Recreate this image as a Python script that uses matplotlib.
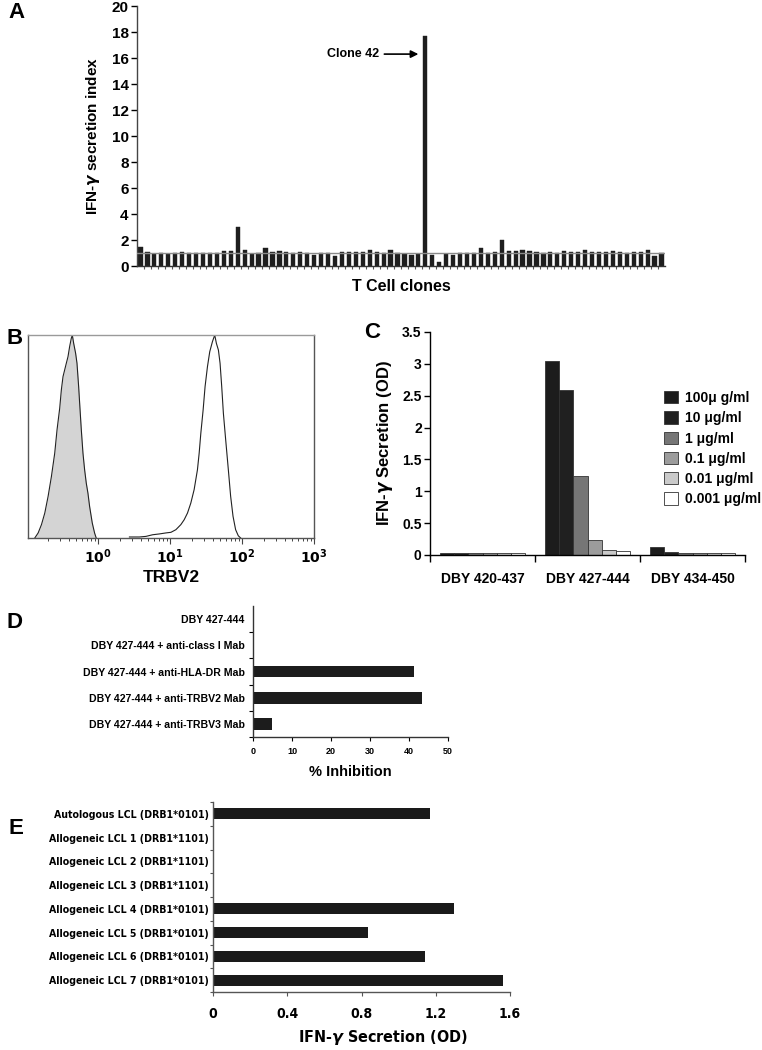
import numpy as np
import matplotlib
matplotlib.use('Agg')
import matplotlib.pyplot as plt
from matplotlib.patches import Patch
from matplotlib.ticker import FixedLocator, NullFormatter, LogLocator
from matplotlib.font_manager import FontProperties

plt.rcParams['font.family'] = ['Liberation Sans', 'DejaVu Sans']
plt.rcParams['font.weight'] = 'bold'
plt.rcParams['axes.linewidth'] = 1.0

# ---------------- Panel A data ----------------
clone_values = [1.43, 1.06, 0.96, 0.98, 0.92, 0.98, 1.06, 0.98, 0.98, 0.98,
                1.03, 0.98, 1.16, 1.16, 3.00, 1.21, 0.93, 1.00, 1.42, 1.06,
                1.16, 1.06, 1.00, 1.06, 1.00, 0.83, 1.00, 0.98, 0.75, 1.10,
                1.10, 1.10, 1.10, 1.21, 1.10, 1.00, 1.21, 1.00, 0.96, 0.85,
                0.96, 17.70, 0.85, 0.28, 0.96, 0.85, 1.03, 0.98, 0.98, 1.37,
                0.98, 1.10, 2.00, 1.16, 1.16, 1.21, 1.16, 1.08, 1.00, 1.10,
                1.00, 1.16, 1.06, 1.10, 1.21, 1.06, 1.06, 1.10, 1.16, 1.06,
                1.00, 1.10, 1.10, 1.21, 0.80, 0.98]
clone_ids = list(range(1, len(clone_values) + 1))
threshold = 1.0
highlight_clone = 42
a_yticks = [0, 2, 4, 6, 8, 10, 12, 14, 16, 18, 20]

# ---------------- Panel B data (log10 intensity, % of max) ----------------
iso_log = [-0.876, -0.829, -0.783, -0.737, -0.691, -0.645, -0.599, -0.567, -0.530, -0.507,
           -0.484, -0.461, -0.438, -0.415, -0.392, -0.369, -0.355, -0.336, -0.309, -0.290,
           -0.267, -0.253, -0.230, -0.207, -0.184, -0.161, -0.138, -0.115, -0.078, -0.046, -0.023]
iso_pct = [0, 2.5, 6.6, 12.3, 20.5, 30.3, 41.8, 53.3, 63.9, 73.0,
           79.5, 82.8, 86.1, 89.3, 94.3, 98.4, 100, 95.9, 91.0, 86.1,
           74.6, 66.4, 53.3, 41.8, 33.6, 27.0, 22.1, 15.6, 7.4, 2.5, 0]
trbv2_log = [0.438, 0.576, 0.668, 0.760, 0.853, 0.945, 1.014, 1.083, 1.152, 1.198,
             1.244, 1.290, 1.336, 1.382, 1.406, 1.429, 1.461, 1.488, 1.521, 1.553,
             1.590, 1.622, 1.645, 1.673, 1.696, 1.719, 1.742, 1.774, 1.811, 1.843,
             1.876, 1.912, 1.949, 1.982]
trbv2_pct = [0.5, 0.5, 0.8, 1.6, 2.0, 2.5, 2.8, 4.1, 6.6, 9.0,
             12.3, 17.2, 23.8, 33.6, 41.8, 51.6, 63.1, 74.6, 84.4, 91.8,
             96.7, 100, 95.9, 92.6, 86.1, 74.6, 61.5, 48.4, 33.6, 20.5,
             10.7, 4.1, 1.1, 0]
b_ticks = [1, 10, 100, 1000]
b_ticklabels = [r'$\mathbf{10^{0}}$', r'$\mathbf{10^{1}}$', r'$\mathbf{10^{2}}$', r'$\mathbf{10^{3}}$']

# ---------------- Panel C data ----------------
peptides = ['DBY 420-437', 'DBY 427-444', 'DBY 434-450']
conc_labels = ['100\u03bc g/ml', '10 \u03bcg/ml', '1 \u03bcg/ml', '0.1 \u03bcg/ml',
               '0.01 \u03bcg/ml', '0.001 \u03bcg/ml']
c_100 = [0.035, 3.05, 0.12]
c_10 = [0.035, 2.59, 0.05]
c_1 = [0.03, 1.24, 0.03]
c_01 = [0.03, 0.23, 0.03]
c_001 = [0.03, 0.085, 0.03]
c_0001 = [0.03, 0.06, 0.03]
conc_colors = ['#1c1c1c', '#202020', '#767676', '#9c9c9c', '#cacaca', '#ffffff']
c_yticks = [0, 0.5, 1, 1.5, 2, 2.5, 3, 3.5]
c_yticklabels = ['0', '0.5', '1', '1.5', '2', '2.5', '3', '3.5']

# ---------------- Panel D data ----------------
d_conditions = ['DBY 427-444', 'DBY 427-444 + anti-class I Mab',
                'DBY 427-444 + anti-HLA-DR Mab', 'DBY 427-444 + anti-TRBV2 Mab',
                'DBY 427-444 + anti-TRBV3 Mab']
d_inhibition = [0, 0, 41.2, 43.4, 4.9]
d_xticks = [0, 10, 20, 30, 40, 50]

# ---------------- Panel E data ----------------
e_lines = ['Autologous LCL (DRB1*0101)', 'Allogeneic LCL 1 (DRB1*1101)',
           'Allogeneic LCL 2 (DRB1*1101)', 'Allogeneic LCL 3 (DRB1*1101)',
           'Allogeneic LCL 4 (DRB1*0101)', 'Allogeneic LCL 5 (DRB1*0101)',
           'Allogeneic LCL 6 (DRB1*0101)', 'Allogeneic LCL 7 (DRB1*0101)']
e_od = [1.17, 0, 0, 0, 1.30, 0.835, 1.14, 1.56]
e_xticks = [0, 0.4, 0.8, 1.2, 1.6]
e_xticklabels = ['0', '0.4', '0.8', '1.2', '1.6']

W, H = 762, 1050
fig = plt.figure(figsize=(W / 100, H / 100), dpi=100)


def rect(x0, y0, x1, y1):
    return [x0 / W, 1 - y1 / H, (x1 - x0) / W, (y1 - y0) / H]


def narrow(size):
    return FontProperties(family='DejaVu Sans', stretch='condensed', weight='bold', size=size)


# ================= Panel A =================
axA = fig.add_axes(rect(137, 6, 665, 266))
axA.bar(clone_ids, clone_values, width=0.6, color='#1e1e1e', edgecolor='#1e1e1e', linewidth=0.3, zorder=2)
axA.axhline(threshold, color='#8a8a8a', lw=1.0, zorder=3)
axA.set_xlim(0.5, len(clone_ids) + 0.5)
axA.set_ylim(0, 20)
axA.set_yticks(a_yticks)
axA.tick_params(axis='y', labelsize=11, length=4, width=1, direction='out', pad=2)
axA.set_xticks([c + 0.5 for c in clone_ids[:-1]])
axA.set_xticklabels([])
axA.tick_params(axis='x', length=2, width=0.8, direction='out', color='#555555')
for s in ['top', 'right']:
    axA.spines[s].set_visible(False)
axA.spines['left'].set_color('#444444')
axA.spines['bottom'].set_color('#333333')
axA.set_ylabel(r'IFN-$\gamma$ secretion index', fontsize=11, fontweight='bold', labelpad=7)
axA.set_xlabel('T Cell clones', fontsize=11.5, fontweight='bold', labelpad=4)
axA.annotate('', xy=(highlight_clone - 1.0, 16.3), xytext=(highlight_clone - 5.9, 16.3),
             arrowprops=dict(arrowstyle='-|>', color='black', lw=1.2, mutation_scale=11,
                             shrinkA=0, shrinkB=0))
axA.text(highlight_clone - 6.6, 16.3, 'Clone %d' % highlight_clone, ha='right', va='center',
         fontsize=9, fontweight='bold')

# ================= Panel B =================
axB = fig.add_axes(rect(28, 335, 314, 538))
axB.fill_between([10 ** v for v in iso_log], iso_pct, color='#d4d4d4', lw=0)
axB.plot([10 ** v for v in iso_log], iso_pct, color='#222222', lw=0.8)
axB.plot([10 ** v for v in trbv2_log], trbv2_pct, color='#222222', lw=0.8)
axB.set_xscale('log')
axB.set_xlim(10 ** -0.97, 1000)
axB.set_ylim(0, 100)
axB.set_xticks(b_ticks)
axB.set_xticklabels(b_ticklabels)
axB.xaxis.set_minor_locator(LogLocator(base=10, subs=np.arange(2, 10), numticks=20))
axB.xaxis.set_minor_formatter(NullFormatter())
axB.tick_params(axis='x', which='major', length=4, width=0.8, labelsize=10, pad=3, color='#444444')
axB.tick_params(axis='x', which='minor', length=2.5, width=0.7, color='#444444')
axB.set_yticks([])
for s in axB.spines.values():
    s.set_color('#555555')
axB.spines['top'].set_color('#9a9a9a')
axB.set_xlabel('TRBV2', fontsize=12.5, fontweight='bold', labelpad=3)

# ================= Panel C =================
axC = fig.add_axes(rect(430, 332, 745, 555))
series = [c_100, c_10, c_1, c_01, c_001, c_0001]
bw = 0.135
centers = np.arange(len(peptides)) + 0.5
handles = []
for i, (vals, col) in enumerate(zip(series, conc_colors)):
    axC.bar(centers + (i - 2.5) * bw, vals, width=bw, color=col, edgecolor='#333333', linewidth=0.6)
    handles.append(Patch(facecolor=col, edgecolor='#333333', linewidth=0.6))
axC.set_xlim(0, len(peptides))
axC.set_ylim(0, 3.5)
axC.set_yticks(c_yticks)
axC.set_yticklabels(c_yticklabels)
axC.xaxis.set_major_locator(FixedLocator(list(range(len(peptides) + 1))))
axC.xaxis.set_major_formatter(NullFormatter())
axC.set_xticks(centers, minor=True)
axC.set_xticklabels(peptides, minor=True)
axC.tick_params(axis='x', which='major', length=5, width=1)
axC.tick_params(axis='x', which='minor', length=0, labelsize=10, pad=12)
axC.tick_params(axis='y', length=4, width=1, labelsize=10, pad=2)
for s in ['top', 'right']:
    axC.spines[s].set_visible(False)
axC.set_ylabel(r'IFN-$\gamma$ Secretion (OD)', fontsize=12, fontweight='bold', labelpad=5)
fig.legend(handles, conc_labels, loc='upper left', bbox_to_anchor=(664 / W, 1 - 391 / H),
           frameon=False, handlelength=1.0, handleheight=1.0, handletextpad=0.5,
           labelspacing=0.45, borderaxespad=0, borderpad=0,
           prop={'size': 10, 'weight': 'bold'})

# ================= Panel D =================
axD = fig.add_axes(rect(253, 606, 448, 737))
yD = np.arange(len(d_conditions))
axD.barh(yD, d_inhibition, height=0.45, color='#1c1c1c')
axD.set_ylim(len(d_conditions) - 0.5, -0.5)
axD.set_xlim(0, 50)
axD.set_xticks(d_xticks)
axD.tick_params(axis='x', length=3, width=0.8, labelsize=6.5, pad=4)
axD.yaxis.set_major_locator(FixedLocator([v + 0.5 for v in yD]))
axD.yaxis.set_major_formatter(NullFormatter())
axD.set_yticks(yD, minor=True)
axD.set_yticklabels(d_conditions, minor=True)
axD.tick_params(axis='y', which='major', length=3, width=0.8)
axD.tick_params(axis='y', which='minor', length=0, labelsize=7.6, pad=6)
for s in ['top', 'right']:
    axD.spines[s].set_visible(False)
axD.spines['left'].set_color('#333333')
axD.spines['bottom'].set_color('#333333')
axD.set_xlabel('% Inhibition', fontsize=10.5, fontweight='bold', labelpad=7)

# ================= Panel E =================
axE = fig.add_axes(rect(213, 802, 510, 992))
yE = np.arange(len(e_lines))
axE.barh(yE, e_od, height=0.46, color='#1a1a1a')
axE.set_ylim(len(e_lines) - 0.5, -0.5)
axE.set_xlim(0, 1.6)
axE.set_xticks(e_xticks)
axE.set_xticklabels(e_xticklabels, fontproperties=narrow(10))
axE.tick_params(axis='x', length=3, width=0.8, pad=8, color='#555555')
axE.yaxis.set_major_locator(FixedLocator([v - 0.5 for v in yE] + [len(e_lines) - 0.5]))
axE.yaxis.set_major_formatter(NullFormatter())
axE.set_yticks(yE, minor=True)
axE.set_yticklabels(e_lines, minor=True, fontproperties=narrow(7.6))
axE.tick_params(axis='y', which='major', length=2.5, width=0.8, color='#555555')
axE.tick_params(axis='y', which='minor', length=0, pad=3)
for s in ['top', 'right']:
    axE.spines[s].set_visible(False)
axE.spines['left'].set_color('#555555')
axE.spines['bottom'].set_color('#555555')
axE.set_xlabel(r'IFN-$\gamma$ Secretion (OD)', fontproperties=narrow(11.5))
axE.xaxis.set_label_coords(0.572, -0.19)

# ================= Panel letters =================
for letter, x, y in [('A', 8, 13), ('B', 6, 338), ('C', 364, 333), ('D', 6, 623), ('E', 8, 828)]:
    fig.text(x / W, 1 - y / H, letter, fontsize=16, fontweight='bold', ha='left', va='center')

fig.savefig('out.png', dpi=100)
